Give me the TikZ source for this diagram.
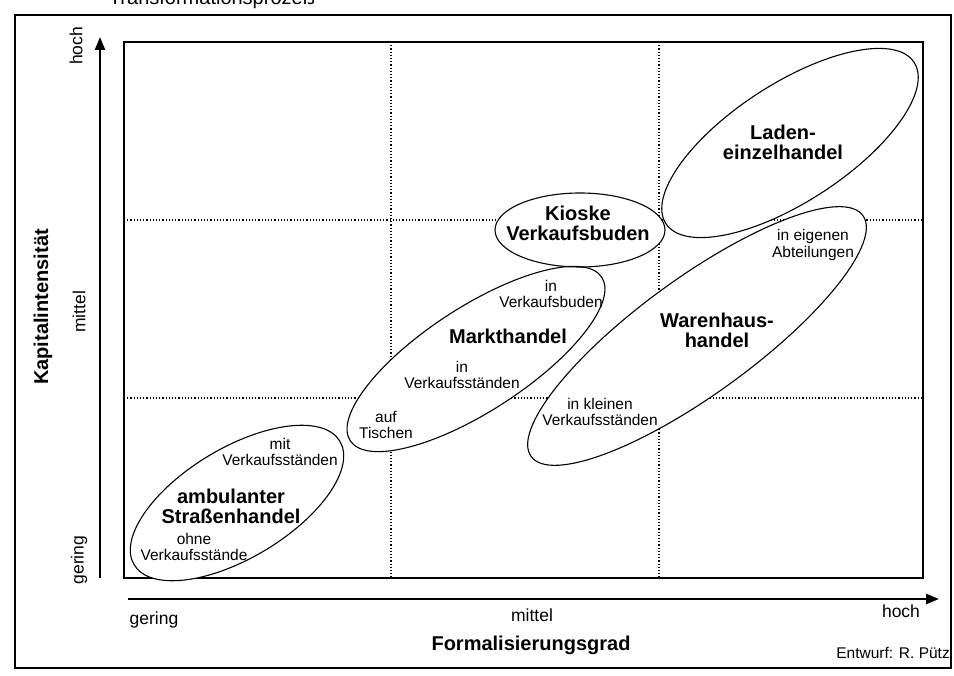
\documentclass[tikz,border=0pt]{standalone}
\usepackage{fontspec}
\setmainfont{Liberation Sans}
\usetikzlibrary{arrows.meta}
\begin{document}
\begin{tikzpicture}[x=1pt,y=-1pt,
  frame/.style={line width=2pt},
  plotbox/.style={line width=1.5pt},
  gridline/.style={line width=1.2pt, dash pattern=on 1.2pt off 2pt},
  axisarrow/.style={line width=2.4pt, -{Triangle[length=13pt,width=10pt]}},
  outline/.style={line width=1.1pt},
  small/.style={font=\fontsize{15.5}{16.5}\selectfont, align=center, inner sep=0pt},
  heading/.style={font=\bfseries\fontsize{20}{20}\selectfont, align=center, inner sep=0pt},
  tick/.style={font=\fontsize{17.5}{18}\selectfont, inner sep=0pt},
  axistitle/.style={font=\bfseries\fontsize{20}{20}\selectfont, inner sep=0pt},
]
\useasboundingbox (0,0) rectangle (954,676);

% caption line running off the top edge
\node[font=\fontsize{20}{20}\selectfont, anchor=base, inner sep=0pt] (proc) at (212,5) {Transformationsprozeß};

% outer frame and plot area
\draw[frame] (15,15) rectangle (951,668);
\draw[plotbox] (124,42) rectangle (923,578);

% dotted grid (thirds)
\draw[gridline] (391,42) -- (391,578);
\draw[gridline] (659,42) -- (659,578);
\draw[gridline] (124,220) -- (923,220);
\draw[gridline] (124,398) -- (923,398);

% axes
\coordinate (yfrom) at (100,578);
\coordinate (yto) at (100,37);
\draw[axisarrow] (yfrom) -- (yto);
\coordinate (xfrom) at (128,599);
\coordinate (xto) at (939,599);
\draw[axisarrow] (xfrom) -- (xto);

% retail forms: white fills first, outlines afterwards
\def\blobs{237/503/120/55/31, 476/359/150/52/33, 580/230/85/37/0, 790/143/148/59/33, 697/336/205/58/36}
\foreach \cx/\cy/\a/\b/\r in \blobs
  \fill[white, rotate around={\r:(\cx,\cy)}] (\cx,\cy) ellipse [x radius=\a, y radius=\b];
\foreach \cx/\cy/\a/\b/\r in \blobs
  \draw[outline, rotate around={\r:(\cx,\cy)}] (\cx,\cy) ellipse [x radius=\a, y radius=\b];

% labels inside the ellipses
\node[heading] (amb) at (231,506) {ambulanter\\Straßenhandel};
\node[small] (ambmit) at (280,452) {mit\\Verkaufsständen};
\node[small] (ambohne) at (194,547) {ohne\\Verkaufsstände};

\node[heading] (markt) at (508,336) {Markthandel};
\node[small] (marktbuden) at (551,294) {in\\Verkaufsbuden};
\node[small] (marktstaende) at (462,375) {in\\Verkaufsständen};
\node[small] (markttische) at (386,425) {auf\\Tischen};

\node[heading] (kiosk) at (578,223) {Kioske\\Verkaufsbuden};

\node[heading] (laden) at (783,142) {Laden-\\einzelhandel};

\node[heading] (waren) at (717,330) {Warenhaus-\\handel};
\node[small] (warenabt) at (813,245) {in eigenen\\Abteilungen};
\node[small] (warenklein) at (600,412) {in kleinen\\Verkaufsständen};

% axis scale and titles
\node[tick] (xlow) at (154,620) {gering};
\node[tick] (xmid) at (532,615) {mittel};
\node[tick] (xhigh) at (901,611) {hoch};
\node[axistitle] (xtitle) at (531,645) {Formalisierungsgrad};

\node[tick, rotate=90] (ylow) at (79,560) {gering};
\node[tick, rotate=90] (ymid) at (79,312) {mittel};
\node[tick, rotate=90] (yhigh) at (76,46) {hoch};
\node[axistitle, rotate=90] (ytitle) at (43,307) {Kapitalintensität};

\node[font=\fontsize{15.5}{16}\selectfont, anchor=east, inner sep=0pt] (credit) at (950,653) {Entwurf: R. Pütz};
\end{tikzpicture}
\end{document}
